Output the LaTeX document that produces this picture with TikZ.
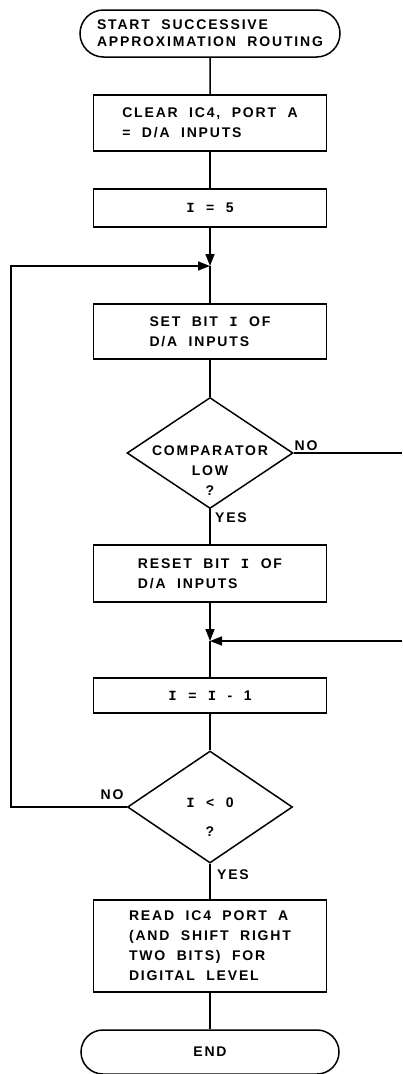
\documentclass[tikz,border=0pt]{standalone}
\usepackage{fontspec}
\setmainfont{Liberation Sans}[UprightFont=*-Bold, LetterSpace=13, WordSpace=2]
\newfontfamily\varfont{Liberation Mono Bold}
\newcommand{\vI}{{\varfont I}}
\usepackage{tikz}
\usetikzlibrary{arrows.meta, positioning, shapes.geometric, shapes.misc}

\begin{document}
\begin{tikzpicture}[x=1pt, y=-1pt,
    font=\fontsize{14}{20}\selectfont,
    proc/.style={rectangle, draw, line width=1.5pt, minimum width=233pt, inner sep=0pt, align=left},
    term/.style={rounded rectangle, draw, line width=1.5pt, inner sep=0pt, align=left},
    decision/.style={diamond, draw, line width=1.5pt, minimum width=166pt, minimum height=111pt, inner sep=0pt},
    tag/.style={inner sep=0pt},
    flow/.style={line width=1.5pt},
    arr/.style={flow, -{Triangle[length=12pt, width=9pt]}}
]
    \useasboundingbox (0,0) rectangle (402,1074);

    % Hauptablauf von oben nach unten
    \node[term, minimum width=260pt, minimum height=47pt, font=\fontsize{14}{17}\selectfont] (start) at (210,33.5) {START SUCCESSIVE\\APPROXIMATION ROUTING};
    \node[proc, minimum height=56pt] (clear) at (210,123) {CLEAR IC4, PORT A\\= D/A INPUTS};
    \node[proc, minimum height=38pt, align=center] (iset) at (210,208) {\vI{} = 5};
    \coordinate (j1) at (210,266);
    \node[proc, minimum height=55pt] (setbit) at (210,331.5) {SET BIT \vI{} OF\\D/A INPUTS};
    \node[decision] (comp) at (210,453) {};
    \node[tag, align=center] (comp-txt) at (210,471) {COMPARATOR\\LOW\\?};
    \node[proc, minimum height=57pt] (reset) at (210,573.5) {RESET BIT \vI{} OF\\D/A INPUTS};
    \coordinate (j2) at (210,641);
    \node[proc, minimum height=35pt, align=center] (dec) at (210,695.5) {\vI{} = \vI{} - 1};
    \node[decision, minimum height=112pt, minimum width=165pt] (cond) at (210,807) {};
    \node[tag, align=center] (cond-txt) at (210,817) {\vI{} < 0\\[9pt]?};
    \node[proc, minimum height=92pt] (read) at (210,946) {READ IC4 PORT A\\(AND SHIFT RIGHT\\TWO BITS) FOR\\DIGITAL LEVEL};
    \node[term, minimum width=258pt, minimum height=44pt, align=center] (end) at (210,1052) {END};

    \node[tag] (comp-no) at (306,446) {NO};
    \node[tag] (comp-yes) at (231,518) {YES};
    \node[tag] (cond-no) at (112,795) {NO};
    \node[tag] (cond-yes) at (233,875) {YES};

    \coordinate (comp-out) at (402,453);
    \coordinate (back-in) at (402,641);

    \draw[flow] (start) -- (clear);
    \draw[flow] (clear) -- (iset);
    \draw[arr] (iset) -- (j1);
    \draw[flow] (j1) -- (setbit);
    \draw[flow] (setbit) -- (comp);
    \draw[flow] (comp.east) -- (comp-out);
    \draw[flow] (comp) -- (reset);
    \draw[arr] (reset) -- (j2);
    \draw[arr] (back-in) -- (j2);
    \draw[flow] (j2) -- (dec);
    \draw[flow] (dec) -- (cond);
    \draw[arr] (cond.west) -- ++(-116,0) |- (j1);
    \draw[flow] (cond) -- (read);
    \draw[flow] (read) -- (end);
\end{tikzpicture}
\end{document}
